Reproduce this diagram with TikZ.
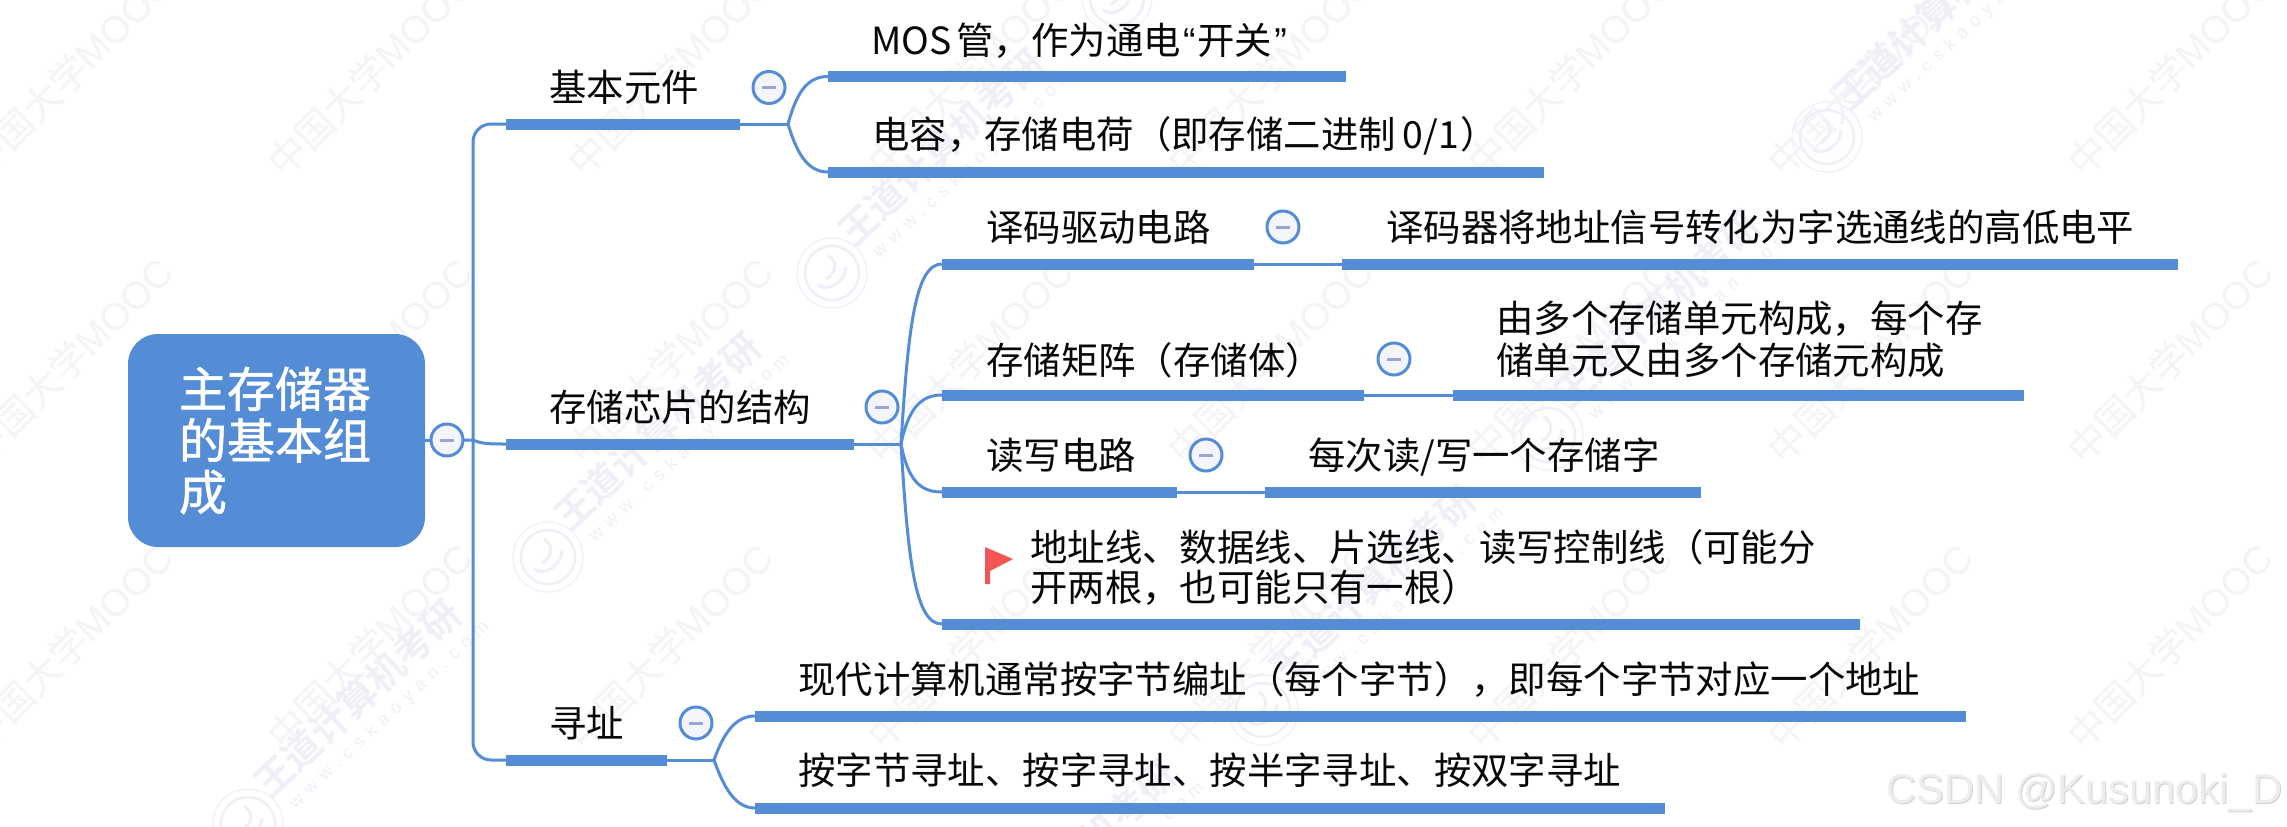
\documentclass[tikz,border=0pt]{standalone}
\usepackage{fontspec}
\setmainfont{Noto Sans CJK SC}
\newfontfamily\rootf[FakeBold=1.2]{Noto Sans CJK SC}
\newfontfamily\wmf{Noto Sans CJK SC}
\newfontfamily\wmbf{Noto Sans CJK SC Bold}
\newfontfamily\wwwf[LetterSpace=40]{Liberation Sans}
\newfontfamily\latinf{Liberation Sans}
\definecolor{bar}{HTML}{558CD6}
\definecolor{wmk}{HTML}{F4F4F7}
\definecolor{wmb}{HTML}{EFEFF7}
\definecolor{mfill}{HTML}{F4F5FB}
\definecolor{mcol}{HTML}{9AA5D6}
\definecolor{flagc}{HTML}{F25555}
\definecolor{ink}{HTML}{080808}
\tikzset{
  barbox/.style={rectangle,fill=bar,draw=none,inner sep=0pt,minimum height=11pt},
  link/.style={draw=bar,line width=3pt},
  minusbox/.style={circle,draw=bar,line width=3pt,fill=mfill,minimum size=32pt,inner sep=0pt},
  txt/.style={anchor=base west,inner sep=0pt,text=ink,font=\fontsize{37.4}{42}\selectfont},
  txttwo/.style={anchor=west,inner sep=0pt,text=ink,align=left},
  rootbox/.style={rectangle,fill=bar,rounded corners=30pt,minimum width=297pt,minimum height=213pt,text=white,text width=195pt,align=left,inner sep=0pt,font=\rootf\fontsize{48}{51.5}\selectfont},
}
\newcommand{\minusmark}{\textcolor{mcol}{\rule[0pt]{14pt}{3pt}}}
\begin{document}
\begin{tikzpicture}[x=1pt,y=-1pt]
\useasboundingbox (0,0) rectangle (2287,827);
\fill[white] (0,0) rectangle (2287,827);
% watermarks
\begin{scope}
\clip (0,0) rectangle (2287,827);
\foreach \wy in {-130,157,444,730}{
  \foreach \wx in {-14,286,586,886,1186,1486,1786,2086}{
    \node[rotate=45,anchor=west,inner sep=0pt,text=wmk,font=\wmf\fontsize{38}{38}\selectfont] (wa\wx w\wy) at (\wx-12,\wy+12) {中国大学{\latinf MOOC}};
  }
}
\foreach \cx/\cy in {248/824,548/557,832/273,1117/-2,963/985,1263/710,1548/435,1827/137}{
  \draw[wmb,line width=1.2pt] (\cx,\cy) circle (35pt);
  \draw[wmb,line width=2.5pt] (\cx,\cy) circle (27pt);
  \draw[wmb,line width=3pt] (\cx-14,\cy+12) .. controls (\cx-4,\cy+20) and (\cx+14,\cy+8) .. (\cx+14,\cy-6);
  \draw[wmb,line width=3pt] (\cx-4,\cy-18) .. controls (\cx+8,\cy-10) and (\cx+2,\cy+2) .. (\cx-6,\cy+6);
  \node[rotate=43,anchor=west,inner sep=0pt,text=wmb,font=\wmbf\fontsize{38}{38}\selectfont] (wb\cx) at (\cx+12,\cy-35) {王道计算机考研};
  \node[rotate=43,anchor=west,inner sep=0pt,text=wmb,font=\wwwf\fontsize{18}{18}\selectfont] (wc\cx) at (\cx+44,\cy-18) {www.cskaoyan.com};
}
\end{scope}

% bars
\node[barbox,minimum width=234pt] (ba) at (623,124) {};
\node[barbox,minimum width=348pt] (bb) at (680,444) {};
\node[barbox,minimum width=161pt] (bc) at (586.5,760) {};
\node[barbox,minimum width=518pt] (aa) at (1087,76.5) {};
\node[barbox,minimum width=716pt] (ab) at (1186,172) {};
\node[barbox,minimum width=312pt] (ca) at (1098,264) {};
\node[barbox,minimum width=836pt] (cax) at (1760,264) {};
\node[barbox,minimum width=422pt] (cb) at (1153,395) {};
\node[barbox,minimum width=571pt] (cbx) at (1738.5,395) {};
\node[barbox,minimum width=235pt] (cc) at (1059.5,492) {};
\node[barbox,minimum width=436pt] (ccx) at (1483,492) {};
\node[barbox,minimum width=918pt] (cd) at (1401,624) {};
\node[barbox,minimum width=1211pt] (da) at (1360.5,716) {};
\node[barbox,minimum width=910pt] (db) at (1210,808) {};

% root
\node[rootbox] (root) at (276.5,440.5) {主存储器\\的基本组\\成};

% junctions
\coordinate (trunk) at (473,440);
\coordinate (fa) at (788,124);
\coordinate (fb) at (901,444);
\coordinate (fc) at (714,760);

% connectors
\draw[link,rounded corners=18pt] (ba.west) -| (trunk) |- (bc.west);
\draw[link] (root.east) -- (trunk) .. controls (482,444) and (490,444) .. (bb.west);
\draw[link] (ba.east) -- (fa);
\draw[link] (fa) .. controls (796,95) and (806,76.5) .. (aa.west);
\draw[link] (fa) .. controls (796,150) and (806,172) .. (ab.west);
\draw[link] (bb.east) -- (fb);
\draw[link] (fb) .. controls (908,330) and (915,264) .. (ca.west);
\draw[link] (fb) .. controls (908,410) and (920,395) .. (cb.west);
\draw[link] (fb) .. controls (908,480) and (920,492) .. (cc.west);
\draw[link] (fb) .. controls (908,560) and (915,624) .. (cd.west);
\draw[link] (ca.east) -- (cax.west);
\draw[link] (cb.east) -- (cbx.west);
\draw[link] (cc.east) -- (ccx.west);
\draw[link] (bc.east) -- (fc);
\draw[link] (fc) .. controls (722,738) and (733,716) .. (da.west);
\draw[link] (fc) .. controls (722,782) and (733,808) .. (db.west);

% minus buttons
\node[minusbox] (mr) at (447,440) {\minusmark};
\node[minusbox] (m1) at (769,87.5) {\minusmark};
\node[minusbox] (m2) at (882,407) {\minusmark};
\node[minusbox] (m3) at (696,723) {\minusmark};
\node[minusbox] (m4) at (1283,227) {\minusmark};
\node[minusbox] (m5) at (1394,359) {\minusmark};
\node[minusbox] (m6) at (1206,455) {\minusmark};

% texts
\node[txt] (t1) at (549,101) {基本元件};
\node[txt] (t2) at (549,421) {存储芯片的结构};
\node[txt] (t3) at (549,737) {寻址};
\node[txt] (t4) at (871,54) {MOS\kern5pt 管，作为通电{\latinf\kern2pt “\kern2pt}开关{\latinf\kern2pt ”}};
\node[txt] (t5) at (872,148) {电容，存储电荷（即存储二进制\kern7pt 0/1\kern2pt）};
\node[txt] (t6) at (986,241) {译码驱动电路};
\node[txt] (t7) at (1386,241) {译码器将地址信号转化为字选通线的高低电平};
\node[txt] (t8) at (986,374) {存储矩阵（存储体）};
\node[txttwo,font=\fontsize{37.4}{42}\selectfont] (t9) at (1496,339) {由多个存储单元构成，每个存\\储单元又由多个存储元构成};
\node[txt] (t10) at (986,469) {读写电路};
\node[txt] (t11) at (1308,469) {每次读/写一个存储字};
\node[txttwo,font=\fontsize{37.4}{40}\selectfont] (t12) at (1030,567) {地址线、数据线、片选线、读写控制线（可能分\\开两根，也可能只有一根）};
\node[txt] (t13) at (798,693) {现代计算机通常按字节编址（每个字节），即每个字节对应一个地址};
\node[txt] (t14) at (798,784) {按字节寻址、按字寻址、按半字寻址、按双字寻址};

% flag
\fill[flagc] (985,547) -- (1013,559) -- (990,571) -- (990,584) -- (985,584) -- cycle;

% csdn stamp
\node[anchor=base west,inner sep=0pt,text=black!18,font=\latinf\fontsize{41.6}{42}\selectfont] (cs0) at (1887,804) {CSDN @Kusunoki\_D};
\node[anchor=base west,inner sep=0pt,text=black!7,font=\latinf\fontsize{41.6}{42}\selectfont] (cs1) at (1886,803) {CSDN @Kusunoki\_D};
\end{tikzpicture}
\end{document}
